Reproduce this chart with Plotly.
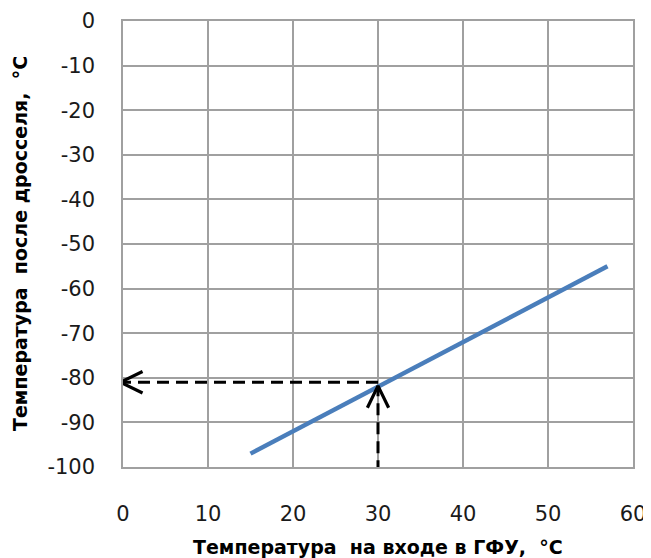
import plotly.graph_objects as go

# Data
line_x = [15, 57]
line_y = [-97, -55]
read_x = 30
read_y = -81
x_ticks = [0, 10, 20, 30, 40, 50, 60]
y_ticks = [0, -10, -20, -30, -40, -50, -60, -70, -80, -90, -100]
x_title = "Температура  на входе в ГФУ,  °С"
y_title = "Температура  после дросселя,  °С"

grid = "#a0a0a0"
font_tick = dict(family="DejaVu Sans, sans-serif", size=21, color="#1a1a1a")

fig = go.Figure()

fig.add_trace(go.Scatter(x=line_x, y=line_y, mode="lines",
                         line=dict(color="#4a7ebb", width=4.5), showlegend=False, hoverinfo="skip"))

# dashed reading lines
dash = "12px,7px"
lw = 3
fig.add_trace(go.Scatter(x=[read_x, read_x], y=[-101.2, read_y - 0.8], mode="lines",
                         line=dict(color="black", width=lw, dash=dash),
                         cliponaxis=False, showlegend=False, hoverinfo="skip"))
fig.add_trace(go.Scatter(x=[read_x, -0.3], y=[read_y, read_y], mode="lines",
                         line=dict(color="black", width=lw, dash=dash),
                         cliponaxis=False, showlegend=False, hoverinfo="skip"))
# arrowheads (open chevrons)
hx, hy = 2.6, 2.4   # horizontal arrow arm extents (data units)
vx, vy = 1.25, 4.9  # vertical arrow arm extents
fig.add_trace(go.Scatter(x=[-0.3 + hx, -0.3, -0.3 + hx], y=[read_y + hy, read_y, read_y - hy],
                         mode="lines", line=dict(color="black", width=3.2),
                         cliponaxis=False, showlegend=False, hoverinfo="skip"))
fig.add_trace(go.Scatter(x=[read_x - vx, read_x, read_x + vx],
                         y=[read_y - 0.8 - vy, read_y - 0.8, read_y - 0.8 - vy],
                         mode="lines", line=dict(color="black", width=3.2),
                         cliponaxis=False, showlegend=False, hoverinfo="skip"))

fig.update_xaxes(range=[0, 60], tickvals=x_ticks, ticktext=[str(v) for v in x_ticks],
                 showgrid=True, gridcolor=grid, gridwidth=1.5,
                 showline=True, linecolor=grid, linewidth=1.5, mirror=True,
                 zeroline=False, ticks="outside", ticklen=27, tickcolor="rgba(0,0,0,0)",
                 tickfont=font_tick, automargin=False)
fig.update_yaxes(range=[-100, 0], tickvals=y_ticks, ticktext=[str(v) for v in y_ticks],
                 showgrid=True, gridcolor=grid, gridwidth=1.5,
                 showline=True, linecolor=grid, linewidth=1.5, mirror=True,
                 zeroline=False, ticks="outside", ticklen=22, tickcolor="rgba(0,0,0,0)",
                 tickfont=font_tick, automargin=False)

title_font = dict(family="DejaVu Sans, sans-serif", size=19, color="black")
fig.add_annotation(text="<b>" + x_title + "</b>", xref="paper", yref="paper",
                   x=0.5, y=0, yshift=-80, showarrow=False, font=title_font,
                   xanchor="center", yanchor="middle")
fig.add_annotation(text="<b>" + y_title + "</b>", xref="paper", yref="paper",
                   x=0, xshift=-103, y=0.5, showarrow=False, font=title_font,
                   textangle=-90, xanchor="center", yanchor="middle")

# page body has an 8px default margin, so the figure is sized to fit the 651x558 window
fig.update_layout(width=643, height=550, margin=dict(l=115, r=18, t=13, b=91, autoexpand=False),
                  plot_bgcolor="white", paper_bgcolor="white")

fig.write_html("out.html")
